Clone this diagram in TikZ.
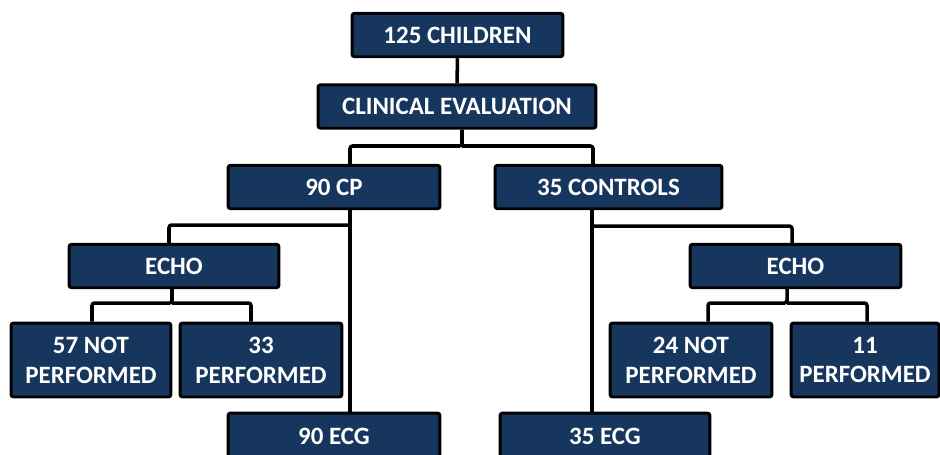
\documentclass[tikz,border=0pt]{standalone}
\usepackage{fontspec}
\setmainfont{Carlito}
\usepackage{tikz}
\usetikzlibrary{positioning, calc}
\usepackage{xcolor}
\definecolor{navy}{RGB}{23,54,93}

\begin{document}
\begin{tikzpicture}[
    x=0.02cm, y=-0.02cm,
    box/.style   = {rectangle, rounded corners=1.5pt, draw=black, line width=1.7pt,
                    fill=navy, text=white, minimum height=0.87cm,
                    font=\fontsize{14.2}{17}\selectfont\bfseries, align=center,
                    inner sep=1pt},
    tallbox/.style = {box, minimum height=1.48cm},
    link/.style  = {line width=2pt, rounded corners=1.5pt},
]
\useasboundingbox (0,0) rectangle (940,454);
\clip (0,0) rectangle (940,454);

% Top of the tree
\node[box, minimum width=4.22cm] (kids) at (457.5,35)  {125 CHILDREN};
\node[box, minimum width=5.56cm] (clin) at (457,106.5) {CLINICAL EVALUATION};

% Groups
\node[box, minimum width=4.24cm] (cp)   at (334,187)   {90 CP};
\node[box, minimum width=4.54cm] (ctrl) at (608.5,187) {35 CONTROLS};

% Echo boxes
\node[box, minimum width=4.2cm]  (echoL) at (174,266)   {ECHO};
\node[box, minimum width=4.22cm] (echoR) at (795.5,266) {ECHO};

% Echo results
\node[tallbox, minimum width=3.2cm]  (n57) at (91,360)  {57 NOT\\PERFORMED};
\node[tallbox, minimum width=3.24cm] (p33) at (261,360) {33\\PERFORMED};
\node[tallbox, minimum width=3.24cm] (n24) at (691,360) {24 NOT\\PERFORMED};
\node[tallbox, minimum width=2.96cm] (p11) at (865,360) {11\\PERFORMED};

% ECG boxes (cut at the bottom)
\node[box, minimum width=4.24cm, minimum height=0.92cm] (ecgL) at (334,436) {90 ECG};
\node[box, minimum width=4.2cm, minimum height=0.92cm]  (ecgR) at (605,436) {35 ECG};

% Connectors
\draw[link] (kids) -- (clin);
\draw[link] (clin.south -| 462,0) |- (350,146) -- (cp.north -| 350,0);
\draw[link] (462,146) -| (ctrl.north -| 593,0);

\draw[link] (cp.south -| 350,0) -- (ecgL.north -| 350,0);
\draw[link] (350,225) -| (echoL.north -| 169,0);
\draw[link] (echoL.south -| 172,0) |- (92,303) -- (n57.north -| 92,0);
\draw[link] (172,303) -| (p33.north -| 251,0);

\draw[link] (ctrl.south -| 592,0) -- (ecgR.north -| 592,0);
\draw[link] (592,226) -| (echoR.north -| 792,0);
\draw[link] (echoR.south -| 787,0) |- (708,303) -- (n24.north -| 708,0);
\draw[link] (787,303) -| (p11.north -| 867,0);

\end{tikzpicture}
\end{document}
